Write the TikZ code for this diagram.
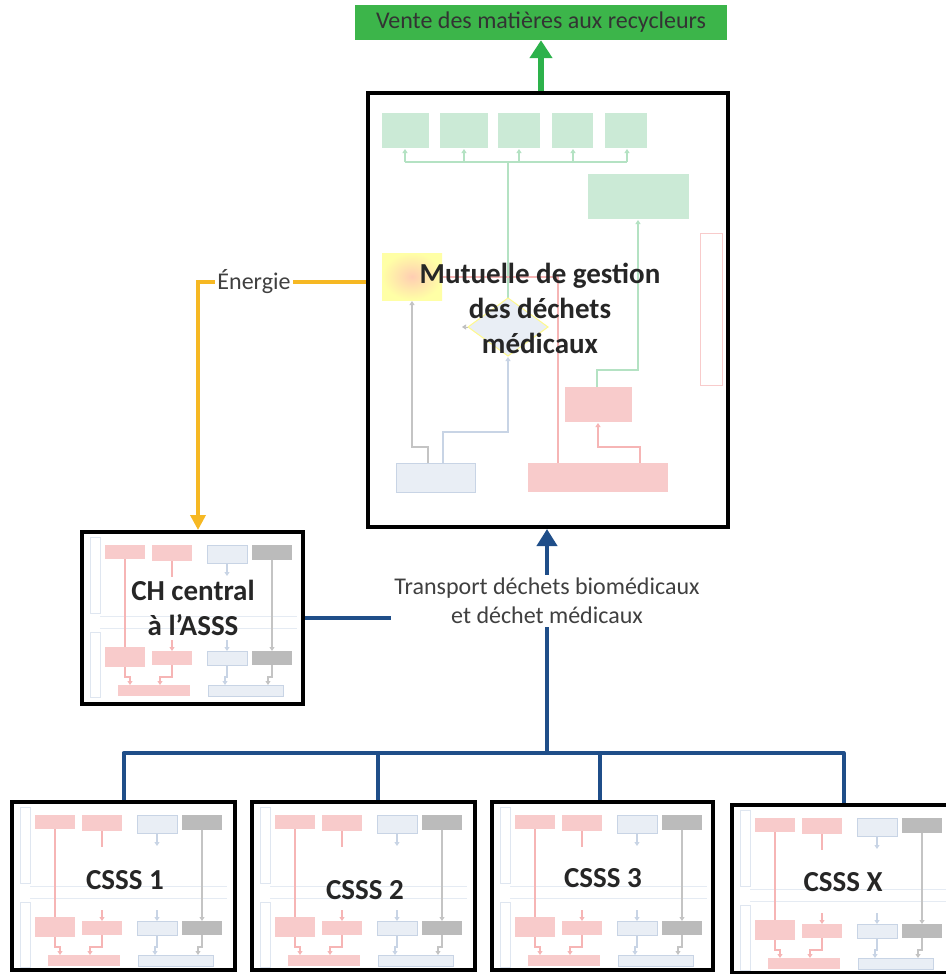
\documentclass[tikz,border=0pt]{standalone}
\usepackage{fontspec}
\setmainfont{Carlito}
\usetikzlibrary{arrows.meta,shapes.geometric,calc}
\definecolor{vgreen}{HTML}{2DB24B}
\definecolor{vgreenfill}{HTML}{3CB54A}
\definecolor{energ}{HTML}{F6B823}
\definecolor{tblue}{HTML}{1F4E89}
\definecolor{gfill}{HTML}{CBEAD6}
\definecolor{gline}{HTML}{B4E2C3}
\definecolor{pfill}{HTML}{F8CBCB}
\definecolor{pline}{HTML}{F6B5B5}
\definecolor{grfill}{HTML}{BBBBBB}
\definecolor{grline}{HTML}{C4C4C4}
\definecolor{bfill}{HTML}{E9EEF5}
\definecolor{bline}{HTML}{C8D4E5}
\definecolor{lane}{HTML}{DFE6F0}
\tikzset{
  bigbox/.style={draw=black, line width=4pt, fill=white, inner sep=0pt, rectangle},
  biglabel/.style={font=\bfseries\fontsize{29}{35}\selectfont, text=black!85, align=center},
  smalllabel/.style={font=\fontsize{24}{29}\selectfont, text=black!75, align=center},
  tip/.style={-{Triangle[width=5pt,length=4pt]}},
  thin/.style={line width=1.5pt},
}
\newcommand\thumbcsss[2]{%
\begin{scope}[shift={(#1,#2)}]
  \draw[lane, line width=0.8pt] (8,5) rectangle (18,81);
  \draw[lane, line width=0.8pt] (8,100) rectangle (18,165);
  \draw[lane!80, line width=0.6pt] (18,84) -- (215,84);
  \draw[lane!80, line width=0.6pt] (18,96) -- (215,96);
  \draw[pline, thin] (43,27) -- (43,115);
  \draw[pline, thin] (90,29) -- (90,45);
  \draw[pline, thin, tip] (90,108) -- (90,119);
  \draw[bline, thin, tip] (145,31) -- (145,44);
  \draw[bline, thin, tip] (145,108) -- (145,119);
  \draw[grline, thin, tip] (190,28) -- (190,119);
  \draw[pline, thin, tip] (43,135) -- (43,145) -- (48,145) -- (48,153);
  \draw[pline, thin, tip] (90,133) -- (90,145) -- (78,145) -- (78,153);
  \draw[bline, thin, tip] (145,133) -- (145,145) -- (143,145) -- (143,153);
  \draw[grline, thin, tip] (190,133) -- (190,145) -- (186,145) -- (186,153);
  \fill[pfill] (23,13) rectangle (63,27);
  \fill[pfill] (70,13) rectangle (110,29);
  \filldraw[fill=bfill, draw=bline, line width=0.5pt] (125,13) rectangle (165,31);
  \fill[grfill] (170,13) rectangle (210,28);
  \fill[pfill] (23,115) rectangle (63,135);
  \fill[pfill] (70,119) rectangle (110,133);
  \filldraw[fill=bfill, draw=bline, line width=0.5pt] (125,119) rectangle (165,133);
  \fill[grfill] (170,119) rectangle (210,133);
  \fill[pfill] (36,153) rectangle (108,164);
  \filldraw[fill=bfill, draw=bline, line width=0.5pt] (126,153) rectangle (201,164);
\end{scope}}
\begin{document}
\begin{tikzpicture}[x=1pt,y=-1pt]
\useasboundingbox (0,0) rectangle (945,974);

% boxes
\node[fill=vgreenfill, minimum width=372pt, minimum height=35pt, inner sep=0pt,
      font=\fontsize{24}{29}\selectfont, text=black!80] (vente) at (541,22.5) {Vente des matières aux recycleurs};
\node[bigbox, minimum width=360pt, minimum height=434pt] (mut) at (548,310) {};
\node[bigbox, minimum width=221pt, minimum height=172pt] (ch) at (192.5,618) {};
\node[bigbox, minimum width=223pt, minimum height=168pt] (c1) at (123.5,886) {};
\node[bigbox, minimum width=223pt, minimum height=168pt] (c2) at (363.5,886) {};
\node[bigbox, minimum width=221pt, minimum height=168pt] (c3) at (602.5,886) {};
\node[bigbox, minimum width=223pt, minimum height=168pt] (cx) at (843.5,889) {};

% thumbnails
\thumbcsss{82}{532}
\thumbcsss{12}{802}
\thumbcsss{252}{802}
\thumbcsss{492}{802}
\thumbcsss{732}{805}

% mutuelle interior
\begin{scope}
  \foreach \a/\b in {382/429,440/488,498/540,552/593,605/647}
    \fill[gfill] (\a,113) rectangle (\b,148);
  \draw[gline, thin] (405,162) -- (627,162);
  \foreach \x in {405,464,519,573,627}
    \draw[gline, thin, tip] (\x,162) -- (\x,149);
  \draw[gline, thin] (508,162) -- (508,298);
  \fill[gfill] (588,174) rectangle (689,219);
  \draw[gline, thin, tip] (597,387) -- (597,370) -- (638,370) -- (638,220);
  \shade[inner color=red!30!orange!30, outer color=yellow!35] (382,253) rectangle (442,300);
  \draw[pline, thin] (558,463) -- (558,277) -- (443,277);
  \filldraw[fill=bfill, draw=yellow!45, line width=1pt] (508,298) -- (548,327) -- (508,356) -- (468,327) -- cycle;
  \draw[grline, thin, tip] (428,463) -- (428,447) -- (412,447) -- (412,301);
  \draw[bline, thin, tip] (443,463) -- (443,432) -- (508,432) -- (508,357);
  \draw[black!25, line width=0.6pt, tip] (468,327) -- (462,327);
  \fill[pfill] (565,387) rectangle (632,422);
  \draw[pline, thin, tip] (640,463) -- (640,447) -- (598,447) -- (598,423);
  \filldraw[fill=bfill, draw=bline, line width=0.5pt] (396,463) rectangle (475,492);
  \fill[pfill] (528,463) rectangle (668,492);
  \draw[pfill, line width=0.8pt] (700,233) rectangle (722,385);
\end{scope}

% labels
\node[biglabel] (mutlab) at (540,308) {Mutuelle de gestion\\des déchets\\médicaux};
\node[biglabel] (chlab) at (193,608) {CH central\\à l’ASSS};
\node[biglabel] (c1lab) at (125,880) {CSSS 1};
\node[biglabel] (c2lab) at (365,890) {CSSS 2};
\node[biglabel] (c3lab) at (603,878) {CSSS 3};
\node[biglabel] (cxlab) at (843,882) {CSSS X};

% connectors
\draw[vgreen, line width=6pt, -{Triangle[width=22pt,length=18pt]}] (mut.north -| vente.south) -- (vente.south);
\draw[energ, line width=3.5pt, -{Triangle[width=15pt,length=15pt]}] ([yshift=28pt]mut.west) -| ([xshift=5.5pt]ch.north);
\node[fill=white, inner sep=2pt, font=\fontsize{24}{29}\selectfont, text=black!75] (energie) at (254,282) {Énergie};

\coordinate (bus) at (547,753);
\draw[tblue, line width=4pt, line join=round] (c1.north) |- (bus) -| (cx.north);
\draw[tblue, line width=4pt] ([xshift=14.5pt]c2.north) -- ([xshift=14.5pt]c2.north |- bus);
\draw[tblue, line width=4pt] ([xshift=-2.5pt]c3.north) -- ([xshift=-2.5pt]c3.north |- bus);
\draw[tblue, line width=4pt, -{Triangle[width=20pt,length=17pt]}] (bus) -- (bus |- mut.south);
\node[fill=white, smalllabel, inner sep=3pt] (transport) at (547,601) {Transport déchets biomédicaux\\et déchet médicaux};
\draw[tblue, line width=4pt] (ch.east) -- (ch.east -| transport.west);
\end{tikzpicture}
\end{document}
